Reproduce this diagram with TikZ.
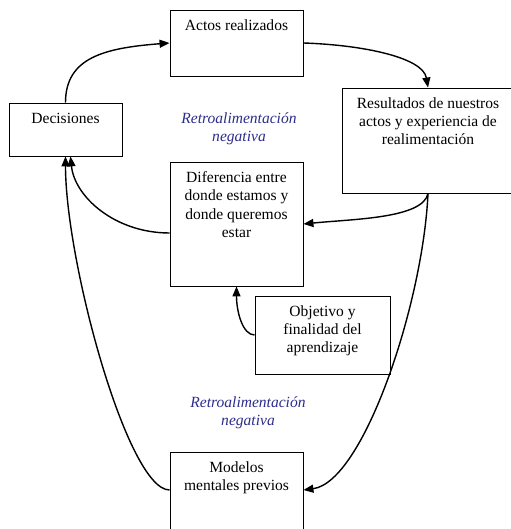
\documentclass[tikz,border=0pt]{standalone}
\usepackage{fontspec}
\setmainfont{Liberation Serif}
\usetikzlibrary{positioning,arrows.meta}
\definecolor{retroblue}{RGB}{45,45,140}
\tikzset{
    caja/.style 2 args={draw, line width=0.9bp, minimum width=#1, minimum height=#2, inner sep=0pt},
    texto/.style={inner sep=0pt, align=center, font=\fontsize{15.6}{18.3}\selectfont},
    retro/.style={texto, text=retroblue, font=\fontsize{15.6}{18.3}\selectfont\itshape},
    flecha/.style={-{Triangle[length=10bp,width=8bp]}, line width=1.4bp}
}
\begin{document}
\begin{tikzpicture}[x=1bp,y=1bp]
        \useasboundingbox (0,0) rectangle (511,529);

        \node[caja={133bp}{66bp}] (actos) at (236.5,486) {};
        \node[caja={113bp}{53bp}] (decisiones) at (65.5,399.5) {};
        \node[caja={172bp}{105bp}] (resultados) at (428,388.5) {};
        \node[caja={133bp}{124bp}] (diferencia) at (236.5,305) {};
        \node[caja={135bp}{78bp}] (objetivo) at (322.5,194) {};
        \node[caja={133bp}{100bp}] (modelos) at (236.5,27) {};

        \node[texto, below=10bp of actos.north] (actostxt) {Actos realizados};
        \node[texto, below=10bp of decisiones.north] (decisionestxt) {Decisiones};
        \node[texto, below=10bp of resultados.north] (resultadostxt) {Resultados de nuestros\\actos y experiencia de\\realimentación};
        \node[texto, below=10bp of diferencia.north] (diferenciatxt) {Diferencia entre\\donde estamos y\\donde queremos\\estar};
        \node[texto, below=10bp of objetivo.north] (objetivotxt) {Objetivo y\\finalidad del\\aprendizaje};
        \node[texto, below=10bp of modelos.north] (modelostxt) {Modelos\\mentales previos};

        \node[retro] (retroarriba) at (239,400) {Retroalimentación\\negativa};
        \node[retro] (retroabajo) at (248,116.5) {Retroalimentación\\negativa};

        \draw[flecha] (decisiones.north) .. controls +(0,45) and +(-65,-5) .. (actos.west);
        \draw[flecha] (actos.east) .. controls +(60,-2) and +(-5,30) .. (resultados.north);
        \draw[flecha] (resultados.south) .. controls +(-5,-25) and +(50,5) .. (diferencia.east);
        \draw[flecha] ([yshift=-9bp]diferencia.west) .. controls +(-55,0) and +(4,-40) .. ([xshift=5bp]decisiones.south);
        \draw[flecha] ([yshift=12bp]modelos.west) .. controls +(-42,0) and +(0,-105) .. (decisiones.south);
        \draw[flecha] (resultados.south) .. controls +(-5,-110) and +(60,8) .. ([yshift=12bp]modelos.east);
        \draw[flecha] (objetivo.west) .. controls +(-12,0) and +(0,-25) .. (diferencia.south);

    \end{tikzpicture}
\end{document}
